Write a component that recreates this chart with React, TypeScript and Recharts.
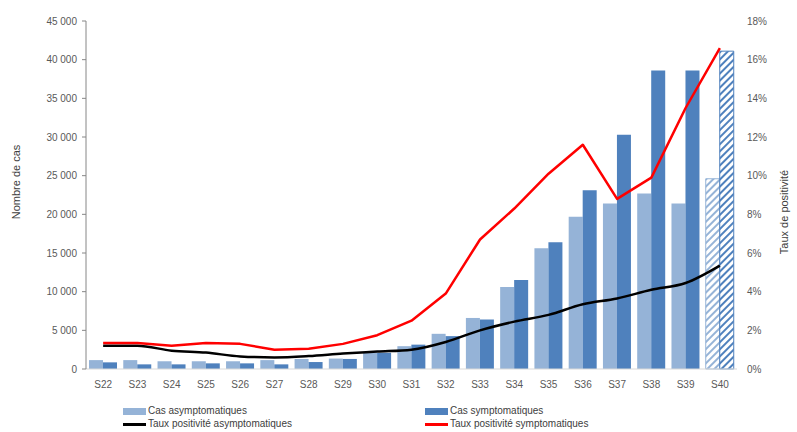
import React from 'react';
import { ComposedChart, Bar, Line, XAxis, YAxis, Cell, Label } from 'recharts';

// Semaines épidémiologiques
const semaines = ['S22', 'S23', 'S24', 'S25', 'S26', 'S27', 'S28', 'S29', 'S30', 'S31', 'S32', 'S33', 'S34', 'S35', 'S36', 'S37', 'S38', 'S39', 'S40'];

// Nombre de cas
const casAsymptomatiques = [1150, 1150, 1000, 1000, 1000, 1150, 1300, 1350, 2150, 2950, 4550, 6600, 10600, 15600, 19700, 21400, 22700, 21400, 24600];
const casSymptomatiques = [860, 600, 600, 730, 730, 600, 900, 1300, 2100, 3150, 4250, 6400, 11500, 16400, 23100, 30300, 38600, 38600, 41100];

// Taux de positivité (%)
const tauxAsymptomatiques = [1.2, 1.2, 0.95, 0.85, 0.65, 0.6, 0.67, 0.8, 0.9, 1.0, 1.4, 2.0, 2.45, 2.8, 3.35, 3.65, 4.1, 4.45, 5.35];
const tauxSymptomatiques = [1.35, 1.35, 1.2, 1.35, 1.3, 1.0, 1.05, 1.3, 1.75, 2.5, 3.9, 6.7, 8.3, 10.1, 11.6, 8.8, 9.9, 13.5, 16.6];

const ticksCas = [0, 5000, 10000, 15000, 20000, 25000, 30000, 35000, 40000, 45000];
const ticksTaux = [0, 2, 4, 6, 8, 10, 12, 14, 16, 18];

// la dernière semaine est provisoire (hachurée)
const provisoire = 'S40';

const CLAIR = '#95B3D7';
const FONCE = '#4F81BD';
const FONT = '"Liberation Sans", Arial, sans-serif';

const data = semaines.map((s, i) => ({
  semaine: s,
  asym: casAsymptomatiques[i],
  sym: casSymptomatiques[i],
  tauxAsym: tauxAsymptomatiques[i],
  tauxSym: tauxSymptomatiques[i],
}));

const formatMilliers = (v: number) => String(v).replace(/\B(?=(\d{3})+(?!\d))/g, ' ');

const legendItems = [
  { label: 'Cas asymptomatiques', color: CLAIR, type: 'rect', x: 123, y: 405 },
  { label: 'Cas symptomatiques', color: FONCE, type: 'rect', x: 425, y: 405 },
  { label: 'Taux positivité asymptomatiques', color: '#000000', type: 'line', x: 123, y: 418 },
  { label: 'Taux positivité symptomatiques', color: '#FF0000', type: 'line', x: 425, y: 418 },
];

const Legende = () => (
  <>
    {legendItems.map((it) => (
      <div
        key={it.label}
        style={{
          position: 'absolute',
          left: it.x,
          top: it.y,
          display: 'flex',
          alignItems: 'center',
          fontFamily: FONT,
          fontSize: 10,
          color: '#404040',
          lineHeight: '12px',
        }}
      >
        <span
          style={{
            display: 'inline-block',
            width: 23,
            height: it.type === 'rect' ? 7 : 3,
            background: it.color,
            marginRight: 2,
          }}
        />
        {it.label}
      </div>
    ))}
  </>
);

const App: React.FC = () => {
  return (
    <div style={{ position: 'relative', width: 797, height: 432, background: '#fff' }}>
      <style>{'body{margin:0}'}</style>
      <ComposedChart
        width={797}
        height={432}
        data={data}
        margin={{ top: 21, right: 20, bottom: 38, left: 10 }}
        barGap={0}
      >
        <defs>
          <pattern id="hachureClair" patternUnits="userSpaceOnUse" width="5" height="5" patternTransform="rotate(45)">
            <rect x="0" y="0" width="5" height="5" fill="#ffffff" />
            <rect x="0" y="0" width="2" height="5" fill={CLAIR} />
          </pattern>
          <pattern id="hachureFonce" patternUnits="userSpaceOnUse" width="5" height="5" patternTransform="rotate(45)">
            <rect x="0" y="0" width="5" height="5" fill="#ffffff" />
            <rect x="0" y="0" width="2" height="5" fill={FONCE} />
          </pattern>
        </defs>
        <XAxis
          dataKey="semaine"
          interval={0}
          height={25}
          tickLine={false}
          axisLine={{ stroke: '#D9D9D9' }}
          tick={{ fontFamily: FONT, fontSize: 10, fill: '#595959' }}
          tickMargin={6}
        />
        <YAxis
          yAxisId="cas"
          width={76}
          domain={[0, 45000]}
          ticks={ticksCas}
          tickFormatter={formatMilliers}
          axisLine={{ stroke: '#868686' }}
          tickLine={{ stroke: '#868686' }}
          tickSize={4}
          tickMargin={5}
          tick={{ fontFamily: FONT, fontSize: 10, fill: '#595959' }}
        >
          <Label
            content={() => (
              <text
                x={17}
                y={182}
                transform="rotate(-90 17 182)"
                textAnchor="middle"
                dominantBaseline="middle"
                style={{ fontFamily: FONT, fontSize: 11, fill: '#404040' }}
              >
                Nombre de cas
              </text>
            )}
          />
        </YAxis>
        <YAxis
          yAxisId="taux"
          orientation="right"
          width={40}
          domain={[0, 18]}
          ticks={ticksTaux}
          tickFormatter={(v: number) => `${v}%`}
          axisLine={false}
          tickLine={false}
          tickMargin={4}
          tick={{ fontFamily: FONT, fontSize: 10, fill: '#595959', textAnchor: 'start' }}
        >
          <Label
            content={() => (
              <text
                x={785}
                y={212}
                transform="rotate(-90 785 212)"
                textAnchor="middle"
                dominantBaseline="middle"
                style={{ fontFamily: FONT, fontSize: 11, fill: '#404040' }}
              >
                Taux de positivité
              </text>
            )}
          />
        </YAxis>
        <Bar yAxisId="cas" dataKey="asym" name="Cas asymptomatiques" fill={CLAIR} barSize={14} isAnimationActive={false}>
          {data.map((d) => (
            <Cell
              key={`a-${d.semaine}`}
              fill={d.semaine === provisoire ? 'url(#hachureClair)' : CLAIR}
              stroke={d.semaine === provisoire ? CLAIR : 'none'}
              strokeWidth={1}
            />
          ))}
        </Bar>
        <Bar yAxisId="cas" dataKey="sym" name="Cas symptomatiques" fill={FONCE} barSize={14} isAnimationActive={false}>
          {data.map((d) => (
            <Cell
              key={`s-${d.semaine}`}
              fill={d.semaine === provisoire ? 'url(#hachureFonce)' : FONCE}
              stroke={d.semaine === provisoire ? FONCE : 'none'}
              strokeWidth={1}
            />
          ))}
        </Bar>
        <Line
          yAxisId="taux"
          type="monotone"
          dataKey="tauxAsym"
          name="Taux positivité asymptomatiques"
          stroke="#000000"
          strokeWidth={2.5}
          dot={false}
          isAnimationActive={false}
        />
        {/* segments droits : les pics S36/S37 restent anguleux */}
        <Line
          yAxisId="taux"
          type="linear"
          dataKey="tauxSym"
          name="Taux positivité symptomatiques"
          stroke="#FF0000"
          strokeWidth={2.5}
          strokeLinejoin="round"
          dot={false}
          isAnimationActive={false}
        />
      </ComposedChart>
      <Legende />
    </div>
  );
};

export default App;
